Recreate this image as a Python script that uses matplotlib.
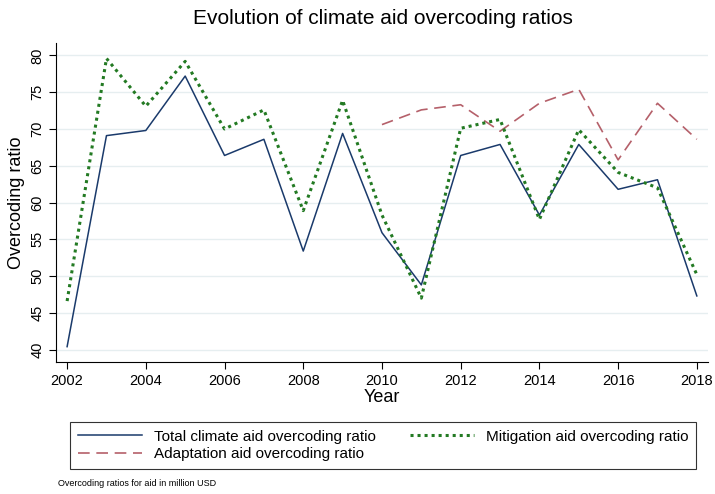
import matplotlib
matplotlib.use('Agg')
import matplotlib.pyplot as plt

plt.rcParams['font.family'] = ['Liberation Sans', 'DejaVu Sans']

years = list(range(2002, 2019))
total_ratio = [40.4, 69.1, 69.8, 77.2, 66.4, 68.6, 53.4, 69.4, 55.9,
               48.8, 66.4, 67.9, 58.3, 67.9, 61.8, 63.1, 47.3]
mitigation_ratio = [46.6, 79.6, 73.1, 79.2, 70.0, 72.6, 58.9, 73.9, 58.3,
                    47.0, 70.1, 71.3, 57.7, 69.9, 64.1, 62.0, 50.2]
adaptation_years = list(range(2010, 2019))
adaptation_ratio = [70.6, 72.6, 73.3, 69.7, 73.5, 75.4, 65.8, 73.5, 68.6]

x_ticks = list(range(2002, 2019, 2))
y_ticks = list(range(40, 81, 5))

fig = plt.figure(figsize=(7.15, 4.94), dpi=100)
ax = fig.add_axes([0.079, 0.267, 0.911, 0.646])

l_total, = ax.plot(years, total_ratio, color='#1a3a6b', lw=1.1, linestyle='-',
                   label='Total climate aid overcoding ratio')
l_adapt, = ax.plot(adaptation_years, adaptation_ratio, color='#b5606a', lw=1.2,
                   linestyle=(0, (7, 4)), label='Adaptation aid overcoding ratio')
l_mitig, = ax.plot(years, mitigation_ratio, color='#237a23', lw=2.2,
                   linestyle=(0, (1, 1.3)), label='Mitigation aid overcoding ratio')

ax.set_xlim(2001.73, 2018.28)
ax.set_ylim(38.3, 81.7)
ax.set_xticks(x_ticks)
ax.set_yticks(y_ticks)
ax.tick_params(axis='x', labelsize=10.5, length=5, width=0.8, color='black')
ax.tick_params(axis='y', labelsize=10.5, length=5, width=0.8, color='black',
               labelrotation=90)
for lab in ax.get_yticklabels():
    lab.set_verticalalignment('center')

ax.grid(axis='y', color='#e6eef0', lw=1.0)
ax.set_axisbelow(True)
for side in ['top', 'right']:
    ax.spines[side].set_visible(False)
ax.spines['left'].set_linewidth(0.8)
ax.spines['bottom'].set_linewidth(0.8)

ax.set_xlabel('Year', fontsize=13, labelpad=1)
ax.set_ylabel('Overcoding ratio', fontsize=13, labelpad=4)
fig.text(0.535, 0.962, 'Evolution of climate aid overcoding ratios',
         ha='center', va='center', fontsize=15)

leg = fig.legend(handles=[l_total, l_adapt, l_mitig], ncol=2,
                 loc='center left', bbox_to_anchor=(0.098, 0.0985),
                 borderaxespad=0.0,
                 fontsize=11, frameon=True, fancybox=False,
                 handlelength=4.2, columnspacing=2.2, borderpad=0.5,
                 labelspacing=0.2, handletextpad=0.8)
leg.get_frame().set_edgecolor('black')
leg.get_frame().set_linewidth(0.8)

fig.text(0.081, 0.012, 'Overcoding ratios for aid in million USD',
         ha='left', va='bottom', fontsize=6.5)

fig.savefig('out.png', dpi=100)
